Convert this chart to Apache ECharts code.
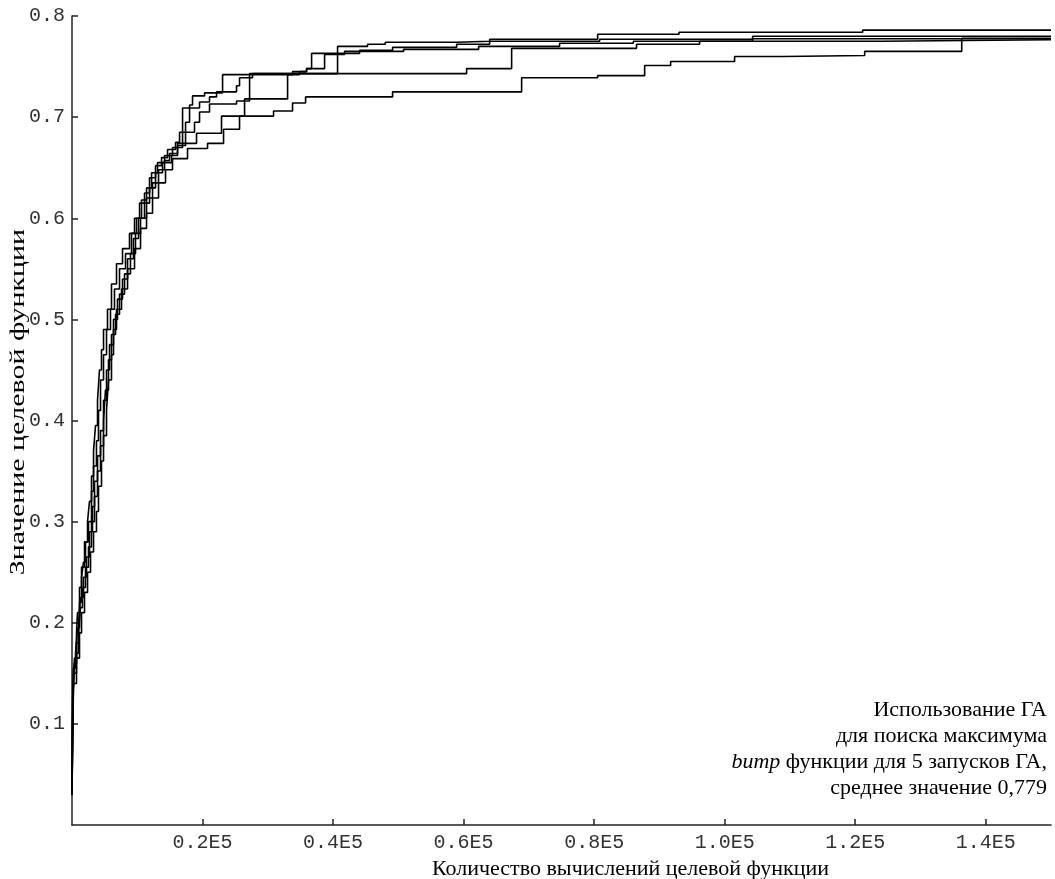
<!DOCTYPE html>
<html>
<head>
<meta charset="utf-8">
<script src="https://cdn.jsdelivr.net/npm/echarts@6/dist/echarts.min.js"></script>
<style>
  html, body { margin: 0; padding: 0; background: #fff; }
  #chart { width: 1055px; height: 879px; }
</style>
</head>
<body>
<div id="chart"></div>
<script>
// 5 запусков ГА: [число вычислений, лучшее значение]
var run1 = [[0,0.03],[100,0.10],[230,0.15],[380,0.165],[690,0.19],[840,0.21],[1150,0.235],[1460,0.255],[1920,0.28],[2380,0.30],[2680,0.32],[2990,0.345],[3300,0.37],[3600,0.395],[3910,0.42],[4210,0.45],[4520,0.47],[4830,0.49],[5440,0.51],[6050,0.535],[6820,0.555],[7740,0.57],[8810,0.585],[9580,0.60],[10350,0.615],[11110,0.625],[11880,0.64],[12800,0.652],[13720,0.66],[14640,0.668],[15860,0.675],[16480,0.685],[17400,0.695],[18010,0.712],[18470,0.721],[20310,0.724],[23070,0.742],[33790,0.745],[35940,0.748],[36710,0.763],[44060,0.766],[49120,0.769],[58930,0.772],[63990,0.775],[80840,0.777],[104280,0.780],[150000,0.780]];
var run2 = [[0,0.03],[80,0.12],[230,0.155],[540,0.17],[840,0.195],[1150,0.22],[1460,0.245],[1760,0.26],[2070,0.28],[2530,0.30],[2990,0.33],[3300,0.355],[3750,0.38],[4060,0.41],[4370,0.44],[4830,0.465],[5290,0.49],[5900,0.51],[6510,0.53],[7280,0.55],[8200,0.565],[9120,0.585],[9890,0.60],[10650,0.618],[11420,0.63],[12190,0.645],[13100,0.655],[14180,0.662],[15400,0.670],[16940,0.709],[19540,0.715],[21070,0.72],[22150,0.725],[25210,0.731],[25670,0.739],[27660,0.743],[40690,0.770],[45290,0.772],[48000,0.774],[58930,0.775],[63990,0.777],[80540,0.782],[93000,0.784],[121140,0.786],[150000,0.786]];
var run3 = [[0,0.03],[150,0.13],[380,0.16],[690,0.18],[1000,0.20],[1300,0.225],[1760,0.245],[2220,0.265],[2680,0.29],[3140,0.315],[3450,0.34],[3910,0.365],[4370,0.39],[4830,0.42],[5290,0.45],[5750,0.475],[6360,0.50],[6970,0.52],[7740,0.54],[8510,0.56],[9420,0.58],[10200,0.60],[11110,0.615],[11880,0.63],[12800,0.645],[13870,0.655],[15250,0.662],[16170,0.674],[19080,0.684],[22910,0.701],[26440,0.718],[33030,0.742],[34860,0.745],[35940,0.748],[38700,0.762],[41760,0.765],[50800,0.767],[62300,0.770],[74710,0.773],[86000,0.775],[104280,0.7775],[150000,0.7775]];
var run4 = [[0,0.03],[100,0.11],[300,0.15],[690,0.17],[1000,0.19],[1300,0.215],[1610,0.235],[2070,0.255],[2530,0.275],[2990,0.30],[3450,0.325],[3910,0.35],[4370,0.375],[4830,0.40],[5130,0.43],[5590,0.46],[6050,0.485],[6670,0.505],[7280,0.525],[8050,0.545],[8960,0.565],[9730,0.585],[10500,0.60],[11420,0.62],[12340,0.635],[13260,0.648],[14180,0.657],[14940,0.664],[16170,0.672],[17400,0.685],[18770,0.695],[19540,0.705],[21070,0.713],[25210,0.716],[27210,0.743],[60460,0.748],[67360,0.768],[86500,0.772],[96160,0.775],[124000,0.7765],[150000,0.7765]];
var run5 = [[0,0.03],[230,0.14],[690,0.165],[1150,0.19],[1460,0.21],[1920,0.23],[2380,0.25],[2840,0.27],[3300,0.29],[3750,0.31],[4060,0.335],[4520,0.36],[4830,0.385],[5290,0.41],[5590,0.44],[6050,0.465],[6360,0.49],[6820,0.51],[7590,0.53],[8510,0.55],[9580,0.57],[10500,0.59],[11420,0.605],[12340,0.62],[13260,0.635],[14330,0.648],[15400,0.659],[17700,0.669],[20770,0.674],[23220,0.688],[25670,0.701],[30880,0.706],[33790,0.714],[35790,0.720],[49120,0.725],[68890,0.739],[80540,0.741],[87740,0.751],[91720,0.755],[101520,0.760],[109030,0.761],[121450,0.765],[136320,0.778],[150000,0.778]];

var xTicks = [20000, 40000, 60000, 80000, 100000, 120000, 140000];
var xTickLabels = ['0.2E5', '0.4E5', '0.6E5', '0.8E5', '1.0E5', '1.2E5', '1.4E5'];
var yTicks = [0.1, 0.2, 0.3, 0.4, 0.5, 0.6, 0.7, 0.8];

var noteLines = [
    'Использование ГА',
    'для поиска максимума',
    '{i|bump} функции для 5 запусков ГА,',
    'среднее значение 0,779'
];

var chart = echarts.init(document.getElementById('chart'));

var mono = '"Liberation Mono", "DejaVu Sans Mono", monospace';
var serif = '"Liberation Serif", "DejaVu Serif", serif';

function makeSeries(data) {
    return {
        type: 'line',
        step: 'end',
        data: data,
        showSymbol: false,
        silent: true,
        lineStyle: { color: '#000', width: 1.6 }
    };
}

var graphics = noteLines.map(function (t, i) {
    return {
        type: 'text',
        x: 1047,
        y: 710 + i * 26,
        style: {
            text: t,
            align: 'right',
            verticalAlign: 'middle',
            font: '22px ' + serif,
            fill: '#000',
            rich: {
                i: { fontStyle: 'italic', fontFamily: serif, fontSize: 22, fill: '#000' }
            }
        }
    };
});

// подпись оси Y (в оригинале растянута вдоль оси)
graphics.push({
    type: 'text',
    x: 18,
    y: 402,
    rotation: Math.PI / 2,
    scaleX: 1.36,
    style: {
        text: 'Значение целевой функции',
        align: 'center',
        verticalAlign: 'middle',
        font: '22px ' + serif,
        fill: '#000'
    }
});

var option = {
    animation: false,
    backgroundColor: '#fff',
    grid: { left: 72, right: 4, top: 16, bottom: 54, outerBoundsMode: 'none', containLabel: false },
    xAxis: {
        type: 'value',
        min: 0,
        max: 150000,
        name: 'Количество вычислений целевой функции',
        nameLocation: 'middle',
        nameGap: 24,
        nameTextStyle: { fontFamily: serif, fontSize: 22, color: '#000', padding: [0, 0, 0, 138] },
        axisLine: { lineStyle: { color: '#222', width: 1.5 } },
        axisTick: { inside: true, length: 6, customValues: xTicks, lineStyle: { color: '#222', width: 1.5 } },
        axisLabel: {
            customValues: xTicks,
            formatter: function (v) {
                var k = xTicks.indexOf(v);
                return k >= 0 ? xTickLabels[k] : '';
            },
            fontFamily: mono, fontSize: 20, color: '#333', margin: 8
        },
        splitLine: { show: false }
    },
    yAxis: {
        type: 'value',
        min: 0,
        max: 0.8,
        interval: 0.1,
        axisLine: { lineStyle: { color: '#222', width: 1.5 } },
        axisTick: { inside: true, length: 6, customValues: yTicks, lineStyle: { color: '#222', width: 1.5 } },
        axisLabel: {
            customValues: yTicks,
            formatter: function (v) { return v.toFixed(1); },
            fontFamily: mono, fontSize: 20, color: '#333', margin: 7
        },
        splitLine: { show: false }
    },
    graphic: graphics,
    series: [makeSeries(run1), makeSeries(run2), makeSeries(run3), makeSeries(run4), makeSeries(run5)]
};

chart.setOption(option);
</script>
</body>
</html>
